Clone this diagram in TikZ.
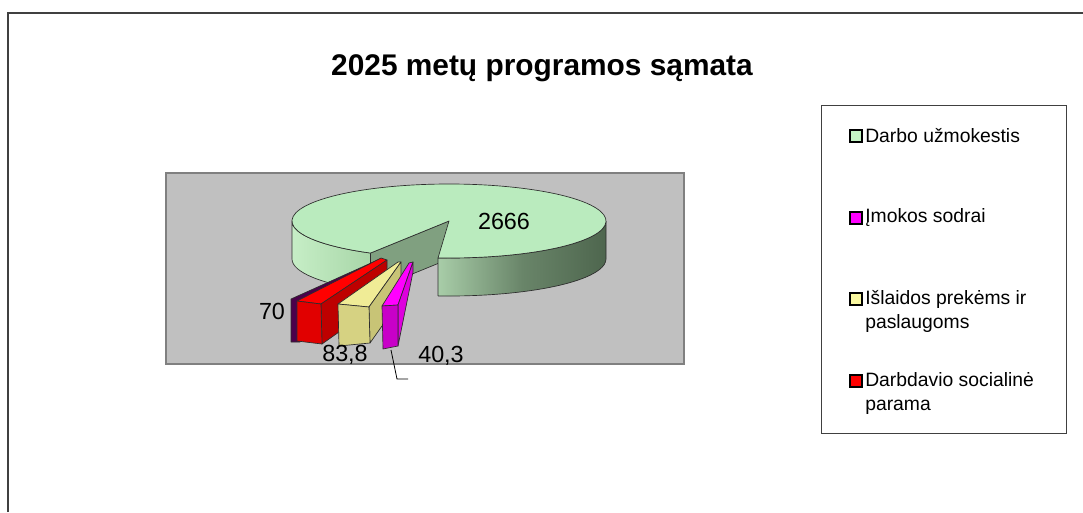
\documentclass[tikz,border=0pt]{standalone}
\usepackage{fontspec}
\setmainfont{Liberation Sans}
\definecolor{plotgray}{RGB}{192,192,192}
\definecolor{plotedge}{RGB}{128,128,128}
\definecolor{lineedge}{RGB}{45,45,45}
\definecolor{pietop}{RGB}{186,235,190}
\definecolor{piecut}{RGB}{128,160,128}
\definecolor{wallA}{RGB}{198,238,198}
\definecolor{wallB}{RGB}{168,214,168}
\definecolor{wallC}{RGB}{168,205,168}
\definecolor{wallD}{RGB}{78,102,78}
\definecolor{purp}{RGB}{75,0,75}
\definecolor{redtop}{RGB}{255,0,0}
\definecolor{redfront}{RGB}{225,0,0}
\definecolor{redside}{RGB}{190,0,0}
\definecolor{yeltop}{RGB}{240,236,150}
\definecolor{yelfront}{RGB}{214,210,130}
\definecolor{yelside}{RGB}{200,196,118}
\definecolor{magtop}{RGB}{255,0,255}
\definecolor{magfront}{RGB}{200,0,200}
\definecolor{magside}{RGB}{222,0,222}
\definecolor{leggreen}{RGB}{196,245,196}
\definecolor{legyellow}{RGB}{250,248,160}
\begin{document}
\begin{tikzpicture}[x=0.75pt,y=-0.75pt,
  face/.style={draw=lineedge,line width=0.5pt,line join=round},
  vallabel/.style={font=\fontsize{17.5}{20}\selectfont,inner sep=0pt},
  legtext/.style={font=\fontsize{14.5}{18}\selectfont,anchor=west,align=left,inner sep=0pt},
  legmark/.style={draw=black,line width=1.3pt,minimum size=8.5pt,inner sep=0pt}]
\useasboundingbox (0,0) rectangle (1083,512);
% outer frame
\draw[line width=0.9pt,color=darkgray] (8,512) -- (8,13) -- (1083,13);
% title
\node[font=\bfseries\fontsize{22.4}{26}\selectfont] (title) at (542,68) {2025 metų programos sąmata};

% plot area
\draw[fill=plotgray,draw=plotedge,line width=1.5pt] (166,173) rectangle (684,364);

% pie: cut face, walls, top
\coordinate (c) at (449,221);
\coordinate (rimL) at ({449+157*cos(120)},{221+37*sin(120)});
\filldraw[face,fill=piecut] (c) -- (rimL) -- ++(0,38) -- (449,259) -- cycle;
\draw[face,left color=wallA,right color=wallB] (rimL)
  arc[start angle=120,end angle=180,x radius=157,y radius=37] -- ++(0,38)
  arc[start angle=180,end angle=120,x radius=157,y radius=37] -- cycle;
\draw[face,left color=wallC,right color=wallD,middle color=wallD!70!wallC] (606,221)
  arc[start angle=0,end angle=94,x radius=157,y radius=37] -- ++(0,38)
  arc[start angle=94,end angle=0,x radius=157,y radius=37] -- cycle;
\filldraw[face,fill=pietop] (c) -- (rimL)
  arc[start angle=120,end angle=454,x radius=157,y radius=37] -- cycle;

% exploded slices
\filldraw[face,fill=purp] (291,342) -- (291,299) -- (380,259) -- (384,261) -- (300,301) -- (300,342) -- cycle;
\filldraw[face,fill=redtop] (297,301) -- (381,258) -- (387,260) -- (321,304) -- cycle;
\filldraw[face,fill=redside] (321,304) -- (387,260) -- (387,298) -- (322,344) -- cycle;
\filldraw[face,fill=redfront] (297,301) -- (321,304) -- (322,344) -- (297,341) -- cycle;

\filldraw[face,fill=yeltop] (338,304) -- (398,262) -- (401,262) -- (369,307) -- cycle;
\filldraw[face,fill=yelside] (369,307) -- (401,262) -- (401,299) -- (370,343) -- cycle;
\filldraw[face,fill=yelfront] (338,304) -- (369,307) -- (370,343) -- (339,346) -- cycle;

\filldraw[face,fill=magtop] (382,306) -- (409,263) -- (413,262) -- (398,305) -- cycle;
\filldraw[face,fill=magside] (398,305) -- (413,262) -- (413,272) -- (398,346) -- cycle;
\filldraw[face,fill=magfront] (382,306) -- (398,305) -- (398,346) -- (383,349) -- cycle;

% value labels
\node[vallabel] (v2666) at (504,221) {2666};
\node[vallabel] (v70) at (272,311) {70};
\node[vallabel] (v838) at (345,355) {83,8};
\node[vallabel] (v403) at (441,356) {40,3};
\coordinate (magbot) at (391,350);
\coordinate (leadend) at (408,379);
\draw[line width=0.6pt] (magbot) -- (397,379) -- (leadend);

% legend
\draw[draw=darkgray,line width=0.7pt] (821,105) rectangle (1066,433);
\node[legmark,fill=leggreen] (mk1) at (856,136) {};
\node[legtext] (lg1) at (865,136) {Darbo užmokestis};
\node[legmark,fill=magtop] (mk2) at (856,218) {};
\node[legtext] (lg2) at (865,218) {Įmokos sodrai};
\node[legmark,fill=legyellow] (mk3) at (856,299) {};
\node[legtext] (lg3) at (865,311) {Išlaidos prekėms ir\\paslaugoms};
\node[legmark,fill=redtop] (mk4) at (856,381) {};
\node[legtext] (lg4) at (865,393) {Darbdavio socialinė\\parama};
\end{tikzpicture}
\end{document}
